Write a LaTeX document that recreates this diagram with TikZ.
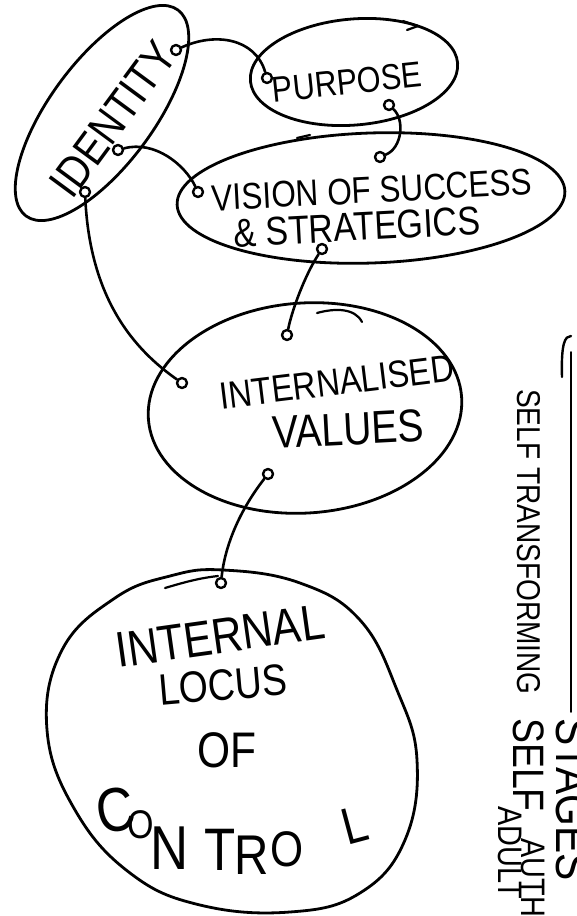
\documentclass[tikz,border=0pt]{standalone}
\usepackage{fontspec}
\newfontfamily\hand[FakeStretch=0.85]{Liberation Sans}
\usetikzlibrary{shapes.geometric}
\begin{document}
\begin{tikzpicture}[x=1pt,y=-1pt, line cap=round, line join=round,
  blob/.style={draw, line width=2.8pt, ellipse, inner sep=0pt},
  dot/.style={circle, draw, line width=2.4pt, minimum size=10pt, inner sep=0pt},
  link/.style={line width=2.6pt},
  pen/.style={line width=2.2pt},
  lab/.style={font=\hand\fontsize{#1}{#1}\selectfont, inner sep=0pt}]
\useasboundingbox (0,0) rectangle (576,916);
\fill[white] (0,0) rectangle (576,916);

% ellipses
\node[blob, minimum width=256pt, minimum height=104pt, rotate=53.6] (identity) at (102,113) {};
\node[blob, minimum width=208pt, minimum height=106pt, rotate=5] (purpose) at (354,72) {};
\node[blob, minimum width=388pt, minimum height=130pt, rotate=2] (vision) at (371,198) {};
\node[blob, minimum width=314pt, minimum height=210pt, rotate=4] (values) at (305,408) {};
\draw[line width=2.8pt] plot[smooth cycle, tension=0.7] coordinates {(223,570) (300,583) (360,620) (397,690) (417,760) (405,840) (360,893) (290,912) (200,905) (130,873) (75,810) (47,730) (62,650) (115,598) (170,576)};

% small pen strokes
\draw[pen] (165,588) .. controls (185,582) and (200,578) .. (218,576);
\draw[pen] (317,313) .. controls (335,308) and (355,308) .. (362,322);
\draw[pen] (403,21) -- (418,26) -- (407,30);
\draw[pen] (297,138) -- (310,135);

% texts
\node[lab=46, rotate=53.6] (tid) at (113,119) {IDENTITY};
\node[lab=36, rotate=6] (tpu) at (347,82) {PURPOSE};
\node[lab=37, rotate=3] (tvi1) at (372,190) {VISION OF SUCCESS};
\node[lab=40, rotate=3] (tvi2) at (357,227) {\& STRATEGICS};
\node[lab=38, rotate=7] (tva1) at (337,382) {INTERNALISED};
\node[lab=46, rotate=3] (tva2) at (348,429) {VALUES};
\node[lab=50, rotate=8] (tlo1) at (220,636) {INTERNAL};
\node[lab=44, rotate=5] (tlo2) at (223,685) {LOCUS};
\node[lab=50] (tlo3) at (227,750) {OF};
\node[lab=62, rotate=10] (c1) at (116,810) {C};
\node[lab=40] (c2) at (141,825) {O};
\node[lab=62] (c3) at (170,848) {N};
\node[lab=60] (c4) at (220,850) {T};
\node[lab=56] (c5) at (252,855) {R};
\node[lab=50] (c6) at (287,849) {O};
\node[lab=52, rotate=15] (c7) at (355,825) {L};

% right side
\node[lab=33, rotate=-90] (ts1) at (529,542) {SELF TRANSFORMING};
\node[lab=44, rotate=-90, anchor=west] (ts2) at (529,718) {SELF};
\node[lab=34, rotate=-90, anchor=west] (ts3) at (533,838) {AUTH};
\node[lab=34, rotate=-90] (tad) at (510,853) {ADULT};
\node[lab=48, rotate=-90, anchor=west] (tst) at (573,718) {STAGES};
\coordinate (arB) at (571,712);
\coordinate (arT) at (571,352);
\coordinate (hk1) at (571,336);
\coordinate (hk2) at (562,377);
\draw[line width=1.8pt] (arB) -- (arT);
\draw[line width=2.4pt] (hk1) .. controls (565,336) and (561,343) .. (hk2);

% connector ends
\node[dot] (idA) at (176,50) {};
\node[dot] (idB) at (118,150) {};
\node[dot] (idC) at (85,192) {};
\node[dot] (puA) at (267,78) {};
\node[dot] (puB) at (389,105) {};
\node[dot] (viA) at (380,157) {};
\node[dot] (viB) at (198,192) {};
\node[dot] (viC) at (322,249) {};
\node[dot] (inA) at (287,335) {};
\node[dot] (inB) at (182,383) {};
\node[dot] (inC) at (268,474) {};
\node[dot] (loA) at (221,583) {};

% connectors
\draw[link] (idA) .. controls (215,32) and (255,38) .. (puA);
\draw[link] (puB) .. controls (405,120) and (402,148) .. (viA);
\draw[link] (idB) .. controls (155,140) and (185,165) .. (viB);
\draw[link] (idC) .. controls (90,300) and (135,350) .. (inB);
\draw[link] (viC) .. controls (305,275) and (292,310) .. (inA);
\draw[link] (inC) .. controls (240,510) and (225,545) .. (loA);
\end{tikzpicture}
\end{document}
